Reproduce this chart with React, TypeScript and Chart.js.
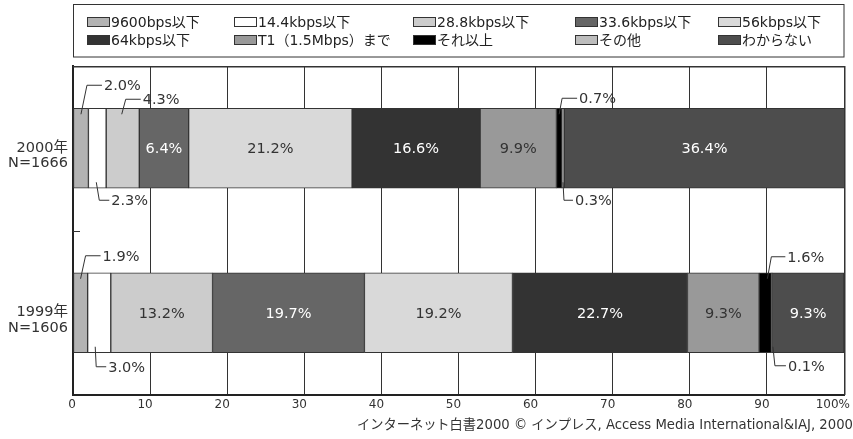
import { useEffect, useRef } from 'react';
import { Chart, registerables } from 'chart.js';

Chart.register(...registerables);

// ---------- data ----------
const categories: string[][] = [
  ['2000年', 'N=1666'],
  ['1999年', 'N=1606'],
];
const seriesNames = [
  '9600bps以下',
  '14.4kbps以下',
  '28.8kbps以下',
  '33.6kbps以下',
  '56kbps以下',
  '64kbps以下',
  'T1（1.5Mbps）まで',
  'それ以上',
  'その他',
  'わからない',
];
const values2000 = [2.0, 2.3, 4.3, 6.4, 21.2, 16.6, 9.9, 0.7, 0.3, 36.4];
const values1999 = [1.9, 3.0, 13.2, 19.7, 19.2, 22.7, 9.3, 1.6, 0.1, 9.3];
const xTickValues = [0, 10, 20, 30, 40, 50, 60, 70, 80, 90, 100];
const footerText = 'インターネット白書2000 © インプレス, Access Media International&IAJ, 2000';

// ---------- styles ----------
const FONT = '"DejaVu Sans", "Noto Sans CJK JP", sans-serif';
const fillColors = ['#b3b3b3', '#ffffff', '#cccccc', '#666666', '#d9d9d9', '#333333', '#999999', '#000000', '#bdbdbd', '#4d4d4d'];
const labelColors = ['#333', '#333', '#333', '#fff', '#333', '#fff', '#333', '#fff', '#333', '#fff'];
const legendCols = [87, 234, 413, 575, 718];
const legendRows = [22, 40];
// leader-line styling for small segments: key = datasetIndex-rowIndex
const leaderStyle: Record<string, { side: 'up' | 'down'; rise: number; elbowDx: number; run: number; startDx?: number }> = {
  '0-0': { side: 'up', rise: 23, elbowDx: 6, run: 15 },
  '1-0': { side: 'down', rise: 12, elbowDx: 3, run: 10, startDx: -1 },
  '2-0': { side: 'up', rise: 9, elbowDx: 4, run: 15, startDx: -1 },
  '7-0': { side: 'up', rise: 10, elbowDx: 3, run: 15 },
  '8-0': { side: 'down', rise: 12, elbowDx: 1, run: 9 },
  '0-1': { side: 'up', rise: 17, elbowDx: 5, run: 15 },
  '1-1': { side: 'down', rise: 14, elbowDx: 1, run: 10, startDx: -4 },
  '7-1': { side: 'up', rise: 16, elbowDx: 4, run: 14, startDx: 2 },
  '8-1': { side: 'down', rise: 13, elbowDx: 2, run: 11, startDx: 1 },
};

const decorPlugin = {
  id: 'decor',
  beforeDraw(chart: any) {
    const ctx = chart.ctx;
    ctx.save();
    ctx.fillStyle = '#fff';
    ctx.fillRect(0, 0, chart.width, chart.height);
    ctx.restore();
  },
  afterDatasetsDraw(chart: any) {
    const ctx = chart.ctx;
    const area = chart.chartArea;
    const yScale = chart.scales.y;
    const xScale = chart.scales.x;
    ctx.save();
    // top and right border of plot
    ctx.strokeStyle = '#333';
    ctx.lineWidth = 1.5;
    ctx.beginPath();
    ctx.moveTo(area.left, area.top + 0.75);
    ctx.lineTo(area.right + 0.75, area.top + 0.75);
    ctx.lineTo(area.right + 0.75, area.bottom);
    ctx.stroke();
    // small tick between categories
    const midY = (yScale.getPixelForValue(0) + yScale.getPixelForValue(1)) / 2;
    ctx.lineWidth = 1;
    ctx.beginPath();
    ctx.moveTo(area.left, Math.round(midY) + 0.5);
    ctx.lineTo(area.left + 7, Math.round(midY) + 0.5);
    ctx.stroke();

    // x tick labels
    ctx.font = `12px ${FONT}`;
    ctx.fillStyle = '#333';
    ctx.textBaseline = 'middle';
    xTickValues.forEach((v) => {
      const px = xScale.getPixelForValue(v);
      if (v === 100) {
        ctx.textAlign = 'right';
        ctx.fillText('100%', px + 6, area.bottom + 10);
      } else {
        ctx.textAlign = 'center';
        ctx.fillText(String(v), v === 0 ? px - 1 : px - 5, area.bottom + 10);
      }
    });

    chart.data.datasets.forEach((ds: any, i: number) => {
      const meta = chart.getDatasetMeta(i);
      meta.data.forEach((el: any, j: number) => {
        const v = ds.data[j];
        const p = el.getProps(['x', 'base', 'y', 'height'], true);
        const cx = (p.x + p.base) / 2;
        const label = v.toFixed(1) + '%';
        if (v >= 5) {
          ctx.font = `14.5px ${FONT}`;
          ctx.fillStyle = labelColors[i];
          ctx.textAlign = 'center';
          ctx.fillText(label, cx, p.y + 1);
        } else {
          const s = leaderStyle[`${i}-${j}`];
          if (!s) return;
          const sx = cx + (s.startDx || 0);
          const top = p.y - p.height / 2;
          const bot = p.y + p.height / 2;
          const sy = s.side === 'up' ? top + 6 : bot - 6;
          const ey = s.side === 'up' ? top - s.rise : bot + s.rise;
          const ex = sx + s.elbowDx;
          ctx.strokeStyle = '#333';
          ctx.lineWidth = 1;
          ctx.beginPath();
          ctx.moveTo(sx, sy);
          ctx.lineTo(ex, ey);
          ctx.lineTo(ex + s.run, ey);
          ctx.stroke();
          ctx.font = `14.5px ${FONT}`;
          ctx.fillStyle = '#333';
          ctx.textAlign = 'left';
          ctx.fillText(label, ex + s.run + 2, ey + 1);
        }
      });
    });
    ctx.restore();
  },
  afterDraw(chart: any) {
    const ctx = chart.ctx;
    ctx.save();
    // legend box
    ctx.strokeStyle = '#333';
    ctx.lineWidth = 1;
    ctx.strokeRect(73.5, 4.5, 770.5, 52.5);
    ctx.font = `14px ${FONT}`;
    ctx.textBaseline = 'middle';
    ctx.textAlign = 'left';
    seriesNames.forEach((name, k) => {
      const col = k % 5;
      const row = Math.floor(k / 5);
      const x = legendCols[col];
      const y = legendRows[row];
      ctx.fillStyle = fillColors[k];
      ctx.fillRect(x, y - 5, 23, 10);
      ctx.strokeStyle = '#333';
      ctx.strokeRect(x + 0.5, y - 4.5, 22, 9);
      ctx.fillStyle = '#222';
      ctx.fillText(name, x + 24, y + 1);
    });
    // footer
    ctx.font = `13.5px ${FONT}`;
    ctx.textAlign = 'right';
    ctx.fillStyle = '#333';
    ctx.fillText(footerText, 853, 425, 496);
    ctx.restore();
  },
};

export default function App() {
  const ref = useRef<HTMLCanvasElement | null>(null);
  useEffect(() => {
    document.body.style.margin = '0';
    const canvas = ref.current;
    if (!canvas) return;
    const datasets = seriesNames.map((name, k) => ({
      label: name,
      data: [values2000[k], values1999[k]],
      backgroundColor: fillColors[k],
      borderColor: '#333',
      borderWidth: 1,
      borderSkipped: false,
      barThickness: 80,
    }));
    const chart = new Chart(canvas, {
      type: 'bar',
      data: { labels: categories as any, datasets },
      options: {
        indexAxis: 'y',
        responsive: false,
        animation: false,
        devicePixelRatio: 1,
        layout: { padding: { top: 66, right: 9, left: 0, bottom: 0 } },
        plugins: { legend: { display: false }, tooltip: { enabled: false } },
        scales: {
          x: {
            type: 'linear',
            stacked: true,
            min: 0,
            max: 100,
            afterBuildTicks: (scale: any) => {
              scale.ticks = xTickValues.map((v) => ({ value: v }));
            },
            afterFit: (scale: any) => {
              scale.height = 44;
              scale.paddingLeft = 0;
              scale.paddingRight = 0;
            },
            grid: { color: '#333', lineWidth: 1, drawTicks: false },
            border: { display: true, color: '#222', width: 2 },
            ticks: { display: false },
          },
          y: {
            type: 'category',
            stacked: true,
            afterFit: (scale: any) => {
              scale.width = 73;
              scale.paddingTop = 0;
              scale.paddingBottom = 0;
            },
            grid: { display: false, drawTicks: false },
            border: { display: true, color: '#222', width: 2 },
            ticks: {
              padding: 5,
              labelOffset: 7.5,
              color: '#333',
              font: { family: FONT, size: 14.5, lineHeight: 1.05 },
            },
          },
        },
      },
      plugins: [decorPlugin],
    } as any);
    return () => chart.destroy();
  }, []);
  return (
    <div style={{ width: 853, height: 439 }}>
      <canvas ref={ref} width={853} height={439} style={{ width: 853, height: 439, display: 'block' }} />
    </div>
  );
}
